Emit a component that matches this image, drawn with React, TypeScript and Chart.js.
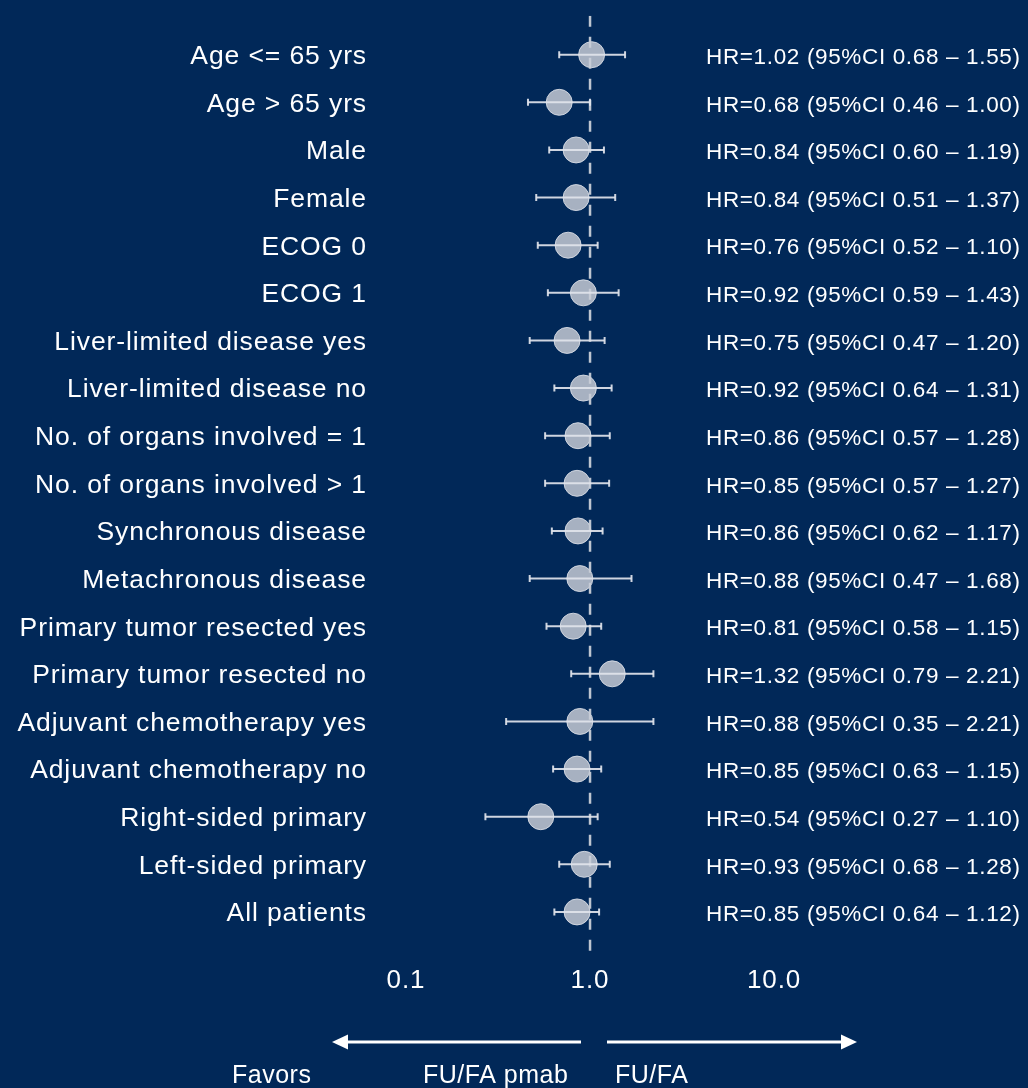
import React, { useEffect, useRef } from 'react';
import { Chart, registerables } from 'chart.js';

Chart.register(...registerables);

const categories = [
  'Age <= 65 yrs',
  'Age > 65 yrs',
  'Male',
  'Female',
  'ECOG 0',
  'ECOG 1',
  'Liver-limited disease yes',
  'Liver-limited disease no',
  'No. of organs involved = 1',
  'No. of organs involved > 1',
  'Synchronous disease',
  'Metachronous disease',
  'Primary tumor resected yes',
  'Primary tumor resected no',
  'Adjuvant chemotherapy yes',
  'Adjuvant chemotherapy no',
  'Right-sided primary',
  'Left-sided primary',
  'All patients',
];

const hazardRatios = [1.02, 0.68, 0.84, 0.84, 0.76, 0.92, 0.75, 0.92, 0.86, 0.85, 0.86, 0.88, 0.81, 1.32, 0.88, 0.85, 0.54, 0.93, 0.85];
const ciLower = [0.68, 0.46, 0.6, 0.51, 0.52, 0.59, 0.47, 0.64, 0.57, 0.57, 0.62, 0.47, 0.58, 0.79, 0.35, 0.63, 0.27, 0.68, 0.64];
const ciUpper = [1.55, 1.0, 1.19, 1.37, 1.1, 1.43, 1.2, 1.31, 1.28, 1.27, 1.17, 1.68, 1.15, 2.21, 2.21, 1.15, 1.1, 1.28, 1.12];

const xTickValues = [0.1, 1, 10];
const xTickLabels = ['0.1', '1.0', '10.0'];
const directionLabels = ['Favors', 'FU/FA pmab', 'FU/FA'];
const REF_VALUE = 1;

const BG = '#012858';
const FONT = '"Liberation Sans", Arial, Helvetica, sans-serif';
const X_MIN = 0.0722;
const X_MAX = 169;
const Y_MIN = -0.82;
const Y_MAX = 18.9;

const decorPlugin = {
  id: 'decor',
  beforeDraw(chart: any) {
    const ctx = chart.ctx;
    ctx.save();
    ctx.fillStyle = BG;
    ctx.fillRect(0, 0, chart.width, chart.height);
    ctx.restore();
    ctx.letterSpacing = '0.9px';
  },
  afterDraw(chart: any) {
    const ctx = chart.ctx;
    const yScale = chart.scales.y;
    ctx.save();
    ctx.letterSpacing = '0.65px';
    ctx.font = `22.5px ${FONT}`;
    ctx.fillStyle = '#ffffff';
    ctx.textAlign = 'left';
    ctx.textBaseline = 'middle';
    categories.forEach((_, i) => {
      const text = `HR=${hazardRatios[i].toFixed(2)} (95%CI ${ciLower[i].toFixed(2)} \u2013 ${ciUpper[i].toFixed(2)})`;
      ctx.fillText(text, 706, yScale.getPixelForValue(i) + 3);
    });

    // direction arrows
    const ay = 1042;
    ctx.strokeStyle = '#ffffff';
    ctx.lineWidth = 3;
    ctx.beginPath();
    ctx.moveTo(581, ay);
    ctx.lineTo(346, ay);
    ctx.stroke();
    ctx.beginPath();
    ctx.moveTo(332, ay);
    ctx.lineTo(348, ay - 7.5);
    ctx.lineTo(348, ay + 7.5);
    ctx.closePath();
    ctx.fill();
    ctx.beginPath();
    ctx.moveTo(607, ay);
    ctx.lineTo(843, ay);
    ctx.stroke();
    ctx.beginPath();
    ctx.moveTo(857, ay);
    ctx.lineTo(841, ay - 7.5);
    ctx.lineTo(841, ay + 7.5);
    ctx.closePath();
    ctx.fill();

    ctx.font = `25px ${FONT}`;
    ctx.letterSpacing = '0.5px';
    ctx.textBaseline = 'alphabetic';
    ctx.fillText(directionLabels[0], 232, 1083);
    ctx.fillText(directionLabels[1], 423, 1083);
    ctx.fillText(directionLabels[2], 615, 1083);
    ctx.restore();
    ctx.letterSpacing = '0px';
  },
};

export default function App() {
  const ref = useRef<HTMLCanvasElement>(null);

  useEffect(() => {
    document.body.style.margin = '0';
    document.body.style.background = BG;
    const pointData = hazardRatios.map((v, i) => ({ x: v, y: i }));
    const whiskers = categories.map((_, i) => ({
      type: 'line' as const,
      data: [
        { x: ciLower[i], y: i },
        { x: ciUpper[i], y: i },
      ],
      borderColor: 'rgba(225,228,235,0.92)',
      borderWidth: 2,
      pointStyle: 'line' as const,
      rotation: 90,
      pointRadius: 3.5,
      pointBorderWidth: 2,
      pointBorderColor: 'rgba(225,228,235,0.92)',
      pointBackgroundColor: 'rgba(225,228,235,0.92)',
      order: 1,
    }));

    const chart = new Chart(ref.current as HTMLCanvasElement, {
      type: 'scatter',
      data: {
        datasets: [
          {
            type: 'scatter',
            data: pointData,
            pointRadius: 13,
            pointBackgroundColor: 'rgba(196,201,212,0.85)',
            pointBorderColor: 'rgba(215,219,228,0.9)',
            pointBorderWidth: 1,
            order: 3,
          } as any,
          {
            type: 'line',
            data: [
              { x: REF_VALUE, y: Y_MIN },
              { x: REF_VALUE, y: Y_MAX },
            ],
            borderColor: 'rgba(200,205,215,0.95)',
            borderWidth: 2.5,
            borderDash: [11, 10],
            pointRadius: 0,
            order: 2,
          } as any,
          ...(whiskers as any[]),
        ],
      },
      options: {
        responsive: false,
        animation: false,
        events: [],
        layout: { padding: { left: 0, right: 28, top: 15, bottom: 82 } },
        plugins: {
          legend: { display: false },
          tooltip: { enabled: false },
        },
        scales: {
          x: {
            type: 'logarithmic',
            min: X_MIN,
            max: X_MAX,
            position: 'bottom',
            grid: { display: false, drawTicks: false },
            border: { display: false },
            afterBuildTicks: (s: any) => {
              s.ticks = xTickValues.map((v) => ({ value: v }));
            },
            ticks: {
              autoSkip: false,
              maxRotation: 0,
              padding: 10,
              color: '#ffffff',
              font: { family: FONT, size: 26, lineHeight: 1.2 },
              callback: (_v: any, i: number) => xTickLabels[i],
            },
          },
          y: {
            type: 'linear',
            reverse: true,
            min: Y_MIN,
            max: Y_MAX,
            grid: { display: false, drawTicks: false },
            border: { display: false },
            afterBuildTicks: (s: any) => {
              s.ticks = categories.map((_, i) => ({ value: i }));
            },
            afterFit: (s: any) => {
              s.width = 380;
            },
            ticks: {
              autoSkip: false,
              padding: 13,
              labelOffset: 2,
              color: '#ffffff',
              font: { family: FONT, size: 26.5, lineHeight: 0.2 },
              callback: (v: any) => categories[v as number],
            },
          },
        } as any,
      },
      plugins: [decorPlugin],
    });
    return () => chart.destroy();
  }, []);

  return (
    <div style={{ width: 1028, height: 1088, background: BG }}>
      <canvas ref={ref} width={1028} height={1088} style={{ display: 'block' }} />
    </div>
  );
}
